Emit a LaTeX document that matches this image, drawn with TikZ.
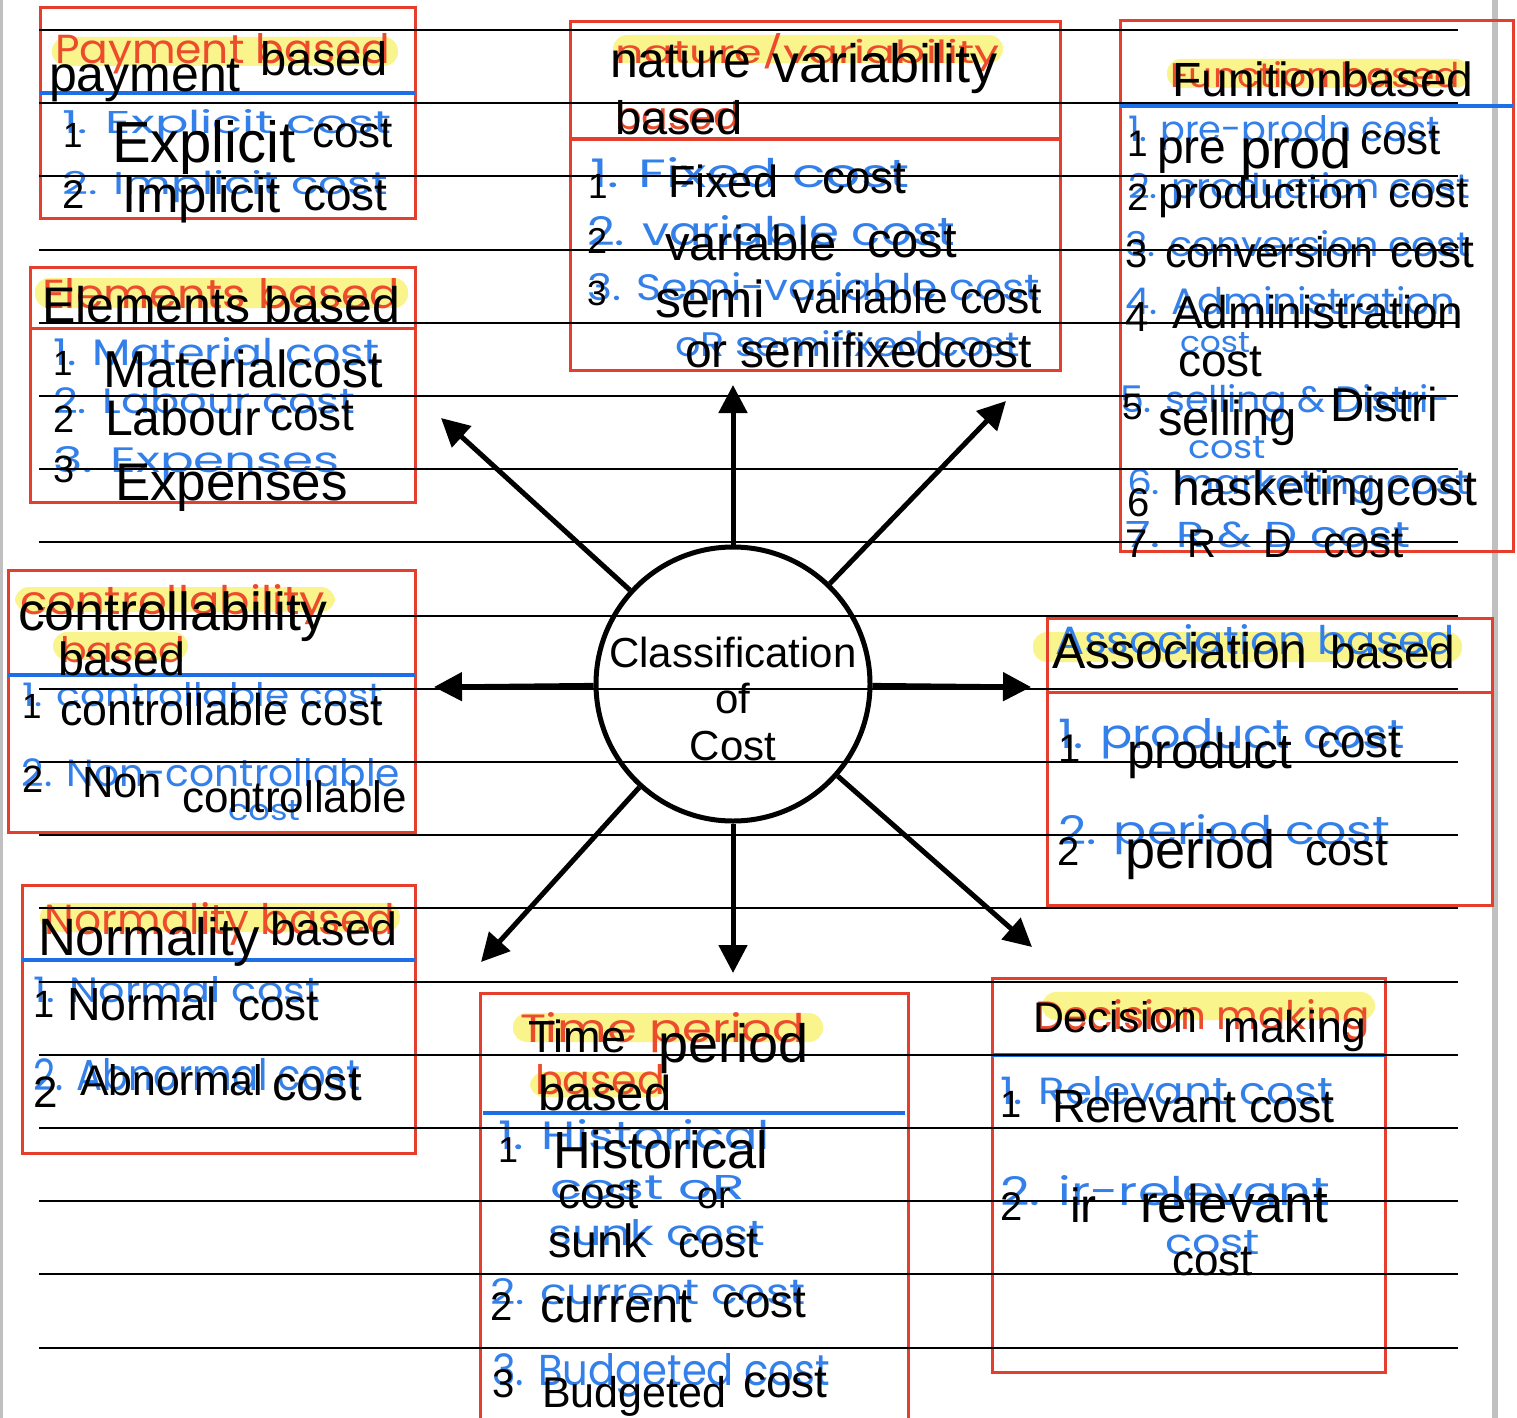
\documentclass[tikz,border=0pt]{standalone}
\usepackage{fontspec}
\usepackage{graphicx}
\setmainfont{Liberation Sans}
\newfontfamily\hwfont{Poppins}
\usetikzlibrary{arrows.meta}
\newcommand{\fsz}[1]{\fontsize{#1}{#1}\selectfont}
\newcommand{\hwtext}[3]{\resizebox{#1pt}{#2pt}{#3}}
\definecolor{boxred}{RGB}{229,62,44}
\definecolor{hwred}{RGB}{236,76,44}
\definecolor{hwblue}{RGB}{52,128,234}
\definecolor{ulblue}{RGB}{30,110,232}
\definecolor{hlyellow}{RGB}{250,244,140}
\definecolor{edgegray}{RGB}{192,192,192}
\tikzset{
  tx/.style={anchor=base west, inner sep=0pt, outer sep=0pt, text=black},
  hwr/.style={anchor=base west, inner sep=0pt, outer sep=0pt, text=hwred, font=\hwfont\fsz{34}},
  hwb/.style={anchor=base west, inner sep=0pt, outer sep=0pt, text=hwblue, font=\hwfont\fsz{34}},
  hl/.style={fill=hlyellow, rounded corners=14pt},
  redbox/.style={draw=boxred, line width=3pt},
  bluline/.style={draw=ulblue, line width=4pt},
  rule/.style={draw=black, line width=2pt},
  arr/.style={draw=black, line width=5pt, -{Triangle[length=28pt,width=28pt]}},
}
\begin{document}
\begin{tikzpicture}[x=1pt,y=-1pt]
\useasboundingbox (0,0) rectangle (1517,1418);
\fill[white] (0,0) rectangle (1517,1418);
% page edges
\fill[edgegray] (0,0) rectangle (3,1418);
\fill[edgegray] (1492,0) rectangle (1498,1418);
% highlights
\fill[hl] (52,37) rectangle (398,66);
\fill[hl] (613,35) rectangle (1003,63);
\fill[hl] (1167,59) rectangle (1470,88);
\fill[hl] (35,278) rectangle (408,308);
\fill[hl] (15,587) rectangle (335,612);
\fill[hl] (53,632) rectangle (188,660);
\fill[hl] (1033,632) rectangle (1462,662);
\fill[hl] (40,903) rectangle (400,932);
\fill[hl] (513,1013) rectangle (823,1042);
\fill[hl] (530,1072) rectangle (667,1097);
\fill[hl] (1042,992) rectangle (1375,1020);
% handwritten notes
\node[hwr] (h1a) at (55,64) {\hwtext{335}{30}{Payment based}};
\node[hwb] (h1b) at (62,134) {\hwtext{330}{24}{1. Explicit cost}};
\node[hwb] (h1c) at (62,194) {\hwtext{326}{24}{2. Implicit cost}};
\node[hwr] (h2a) at (615,64) {\hwtext{385}{30}{nature/variability}};
\node[hwr] (h2b) at (615,130) {\hwtext{125}{28}{based}};
\node[hwb] (h2c) at (590,187) {\hwtext{320}{30}{1. Fixed cost}};
\node[hwb] (h2d) at (587,245) {\hwtext{368}{30}{2. variable cost}};
\node[hwb] (h2e) at (587,300) {\hwtext{453}{28}{3. Semi-variable cost}};
\node[hwb] (h2f) at (675,356) {\hwtext{345}{26}{oR semifixed cost}};
\node[hwr] (h3a) at (1170,88) {\hwtext{290}{26}{Function based}};
\node[hwb] (h3b) at (1128,142) {\hwtext{312}{26}{1. pre-prodn cost}};
\node[hwb] (h3c) at (1128,198) {\hwtext{342}{26}{2. production cost}};
\node[hwb] (h3d) at (1125,256) {\hwtext{345}{26}{3. conversion cost}};
\node[hwb] (h3e) at (1125,314) {\hwtext{330}{28}{4. Administration}};
\node[hwb] (h3f) at (1180,352) {\hwtext{70}{20}{cost}};
\node[hwb] (h3g) at (1120,412) {\hwtext{330}{28}{5. selling \& Distri-}};
\node[hwb] (h3h) at (1188,458) {\hwtext{78}{22}{cost}};
\node[hwb] (h3i) at (1127,494) {\hwtext{343}{26}{6. marketing cost}};
\node[hwb] (h3j) at (1125,547) {\hwtext{285}{26}{7. R \& D cost}};
\node[hwr] (h4a) at (42,308) {\hwtext{358}{30}{Elements based}};
\node[hwb] (h4b) at (53,365) {\hwtext{327}{28}{1. Material cost}};
\node[hwb] (h4c) at (53,413) {\hwtext{302}{26}{2. Labour cost}};
\node[hwb] (h4d) at (53,472) {\hwtext{287}{26}{3. Expenses}};
\node[hwr] (h5a) at (20,614) {\hwtext{305}{30}{controllability}};
\node[hwr] (h5b) at (60,662) {\hwtext{125}{26}{based}};
\node[hwb] (h5c) at (22,706) {\hwtext{361}{24}{1. controllable cost}};
\node[hwb] (h5d) at (22,786) {\hwtext{378}{28}{2. Non-controllable}};
\node[hwb] (h5e) at (228,820) {\hwtext{72}{20}{cost}};
\node[hwb] (h6a) at (1055,654) {\hwtext{400}{30}{Association based}};
\node[hwb] (h6b) at (1058,748) {\hwtext{347}{30}{1. product cost}};
\node[hwb] (h6c) at (1058,844) {\hwtext{332}{30}{2. period cost}};
\node[hwr] (h7a) at (45,934) {\hwtext{350}{32}{Normality based}};
\node[hwb] (h7b) at (33,1002) {\hwtext{287}{26}{1. Normal cost}};
\node[hwb] (h7c) at (33,1090) {\hwtext{327}{32}{2. Abnormal cost}};
\node[hwr] (h8a) at (520,1042) {\hwtext{285}{30}{Time period}};
\node[hwr] (h8b) at (535,1094) {\hwtext{130}{30}{based}};
\node[hwb] (h8c) at (498,1149) {\hwtext{272}{30}{1. Historical}};
\node[hwb] (h8d) at (550,1199) {\hwtext{195}{24}{cost oR}};
\node[hwb] (h8e) at (548,1245) {\hwtext{217}{26}{sunk cost}};
\node[hwb] (h8f) at (490,1304) {\hwtext{315}{26}{2. current cost}};
\node[hwb] (h8g) at (492,1385) {\hwtext{338}{32}{3. Budgeted cost}};
\node[hwr] (h9a) at (1035,1029) {\hwtext{335}{30}{Decision making}};
\node[hwb] (h9b) at (1000,1104) {\hwtext{333}{28}{1. Relevant cost}};
\node[hwb] (h9c) at (1000,1205) {\hwtext{330}{30}{2. ir-relevant}};
\node[hwb] (h9d) at (1165,1254) {\hwtext{95}{24}{cost}};
% red boxes
\draw[redbox] (40,8) rectangle (415,218);
\draw[redbox] (570,22) rectangle (1060,370);
\draw[redbox] (570,139) -- (1060,139);
\draw[redbox] (1120,21) rectangle (1513,551);
\draw[redbox] (30,267) rectangle (415,502);
\draw[redbox] (30,328) -- (415,328);
\draw[redbox] (8,570) rectangle (415,832);
\draw[redbox] (1047,618) rectangle (1492,905);
\draw[redbox] (1047,692) -- (1492,692);
\draw[redbox] (22,885) rectangle (415,1153);
\draw[redbox] (480,1430) -- (480,993) -- (908,993) -- (908,1430);
\draw[redbox] (992,978) rectangle (1385,1372);
% blue underlines
\draw[bluline] (40,93) -- (415,93);
\draw[bluline] (1120,106) -- (1513,106);
\draw[bluline] (8,675) -- (415,675);
\draw[bluline] (22,960) -- (415,960);
\draw[bluline] (483,1113) -- (905,1113);
\draw[bluline] (992,1055) -- (1385,1055);
% ruled lines
\foreach \k in {0,...,18} {
  \draw[rule] (39,{30+73.2*\k}) -- (1458,{30+73.2*\k});
}
% centre circle and arrows
\node[circle, draw=black, line width=5pt, minimum size=274pt, inner sep=0pt] (c) at (733,684) {};
\node[anchor=base, inner sep=0pt, font=\fsz{42}] (ct1) at (733,667) {Classification};
\node[anchor=base, inner sep=0pt, font=\fsz{42}] (ct2) at (733,713) {of};
\node[anchor=base, inner sep=0pt, font=\fsz{42}] (ct3) at (733,760) {Cost};
\coordinate (tU) at (733,385);
\coordinate (tD) at (733,973);
\coordinate (tL) at (434,687);
\coordinate (tR) at (1031,687);
\coordinate (tUL) at (441,418);
\coordinate (tUR) at (1006,401);
\coordinate (tDL) at (481,962);
\coordinate (tDR) at (1032,947);
\draw[arr] (c) -- (tU);
\draw[arr] (c) -- (tD);
\draw[arr] (c) -- (tL);
\draw[arr] (c) -- (tR);
\draw[arr] (c) -- (tUL);
\draw[arr] (c) -- (tUR);
\draw[arr] (c) -- (tDL);
\draw[arr] (c) -- (tDR);
% typed text: box 1
\node[tx] (a1) at (49,92) {\fsz{50}payment};
\node[tx] (a2) at (260,76) {\fsz{47}based};
\node[tx] (a3) at (63,147) {\fsz{35}1};
\node[tx] (a4) at (112,162) {\fsz{58}Explicit};
\node[tx] (a5) at (312,147) {\fsz{44}cost};
\node[tx] (a6) at (62,208) {\fsz{40}2};
\node[tx] (a7) at (122,212) {\fsz{51}Implicit};
\node[tx] (a8) at (303,210) {\fsz{46}cost};
% box 2
\node[tx] (b1) at (610,78) {\fsz{50}nature};
\node[tx] (b2) at (772,83) {\fsz{54}variability};
\node[tx] (b3) at (615,135) {\fsz{47}based};
\node[tx] (b4) at (588,198) {\fsz{35}1};
\node[tx] (b5) at (668,197) {\fsz{45}Fixed};
\node[tx] (b6) at (822,193) {\fsz{46}cost};
\node[tx] (b7) at (587,253) {\fsz{36}2};
\node[tx] (b8) at (665,260) {\fsz{49}variable};
\node[tx] (b9) at (867,257) {\fsz{49}cost};
\node[tx] (b10) at (587,305) {\fsz{35}3};
\node[tx] (b11) at (655,317) {\fsz{52}semi};
\node[tx] (b12) at (792,313) {\fsz{44.5}variable cost};
\node[tx] (b13) at (685,367) {\fsz{48}or semifixedcost};
% box 3
\node[tx] (d1) at (1172,97) {\fsz{48}Funitionbased};
\node[tx] (d2) at (1127,156) {\fsz{37}1};
\node[tx] (d3) at (1157,163) {\fsz{48}pre};
\node[tx] (d4) at (1240,168) {\fsz{56}prod};
\node[tx] (d5) at (1360,154) {\fsz{44}cost};
\node[tx] (d6) at (1127,210) {\fsz{38}2};
\node[tx] (d7) at (1158,208) {\fsz{45}production};
\node[tx] (d8) at (1388,207) {\fsz{44}cost};
\node[tx] (d9) at (1125,267) {\fsz{40}3};
\node[tx] (d10) at (1165,267) {\fsz{43}conversion};
\node[tx] (d11) at (1390,267) {\fsz{46}cost};
\node[tx] (d12) at (1125,331) {\fsz{42}4};
\node[tx] (d13) at (1172,328) {\fsz{46}Administration};
\node[tx] (d14) at (1178,376) {\fsz{46}cost};
\node[tx] (d15) at (1122,419) {\fsz{37}5};
\node[tx] (d16) at (1158,435) {\fsz{49}selling};
\node[tx] (d17) at (1330,421) {\fsz{47.5}Distri};
\node[tx] (d18) at (1127,516) {\fsz{40}6};
\node[tx] (d19) at (1172,505) {\fsz{50}hasketingcost};
\node[tx] (d20) at (1125,557) {\fsz{40}7};
\node[tx] (d21) at (1187,557) {\fsz{40}R};
\node[tx] (d22) at (1263,557) {\fsz{40}D};
\node[tx] (d23) at (1323,557) {\fsz{44}cost};
% box 4
\node[tx] (e1) at (42,322) {\fsz{50}Elements based};
\node[tx] (e2) at (53,375) {\fsz{35}1};
\node[tx] (e3) at (103,387) {\fsz{52}Materialcost};
\node[tx] (e4) at (53,432) {\fsz{38}2};
\node[tx] (e5) at (105,435) {\fsz{50}Labour};
\node[tx] (e6) at (270,430) {\fsz{46}cost};
\node[tx] (e7) at (53,482) {\fsz{38}3};
\node[tx] (e8) at (115,500) {\fsz{53}Expenses};
% box 5
\node[tx] (f1) at (18,630) {\fsz{53.6}controllability};
\node[tx] (f2) at (58,675) {\fsz{46.6}based};
\node[tx] (f3) at (22,718) {\fsz{35}1};
\node[tx] (f4) at (60,725) {\fsz{44.7}controllable cost};
\node[tx] (f5) at (23,792) {\fsz{38}2};
\node[tx] (f6) at (82,797) {\fsz{43.6}Non};
\node[tx] (f7) at (182,812) {\fsz{44}controllable};
% box 6
\node[tx] (g1) at (1052,668) {\fsz{50}Association};
\node[tx] (g2) at (1330,668) {\fsz{46}based};
\node[tx] (g3) at (1058,762) {\fsz{40}1};
\node[tx] (g4) at (1127,768) {\fsz{49.5}product};
\node[tx] (g5) at (1317,757) {\fsz{46}cost};
\node[tx] (g6) at (1057,865) {\fsz{40}2};
\node[tx] (g7) at (1125,868) {\fsz{54}period};
\node[tx] (g8) at (1305,865) {\fsz{45}cost};
% box 7
\node[tx] (k1) at (38,955) {\fsz{52.6}Normality};
\node[tx] (k2) at (270,945) {\fsz{46.6}based};
\node[tx] (k3) at (33,1017) {\fsz{38}1};
\node[tx] (k4) at (67,1020) {\fsz{46.5}Normal};
\node[tx] (k5) at (238,1020) {\fsz{44}cost};
\node[tx] (k6) at (33,1107) {\fsz{44}2};
\node[tx] (k7) at (80,1095) {\fsz{42.8}Abnormal};
\node[tx] (k8) at (272,1100) {\fsz{49}cost};
% box 8
\node[tx] (m1) at (528,1052) {\fsz{45}Time};
\node[tx] (m2) at (658,1062) {\fsz{54}period};
\node[tx] (m3) at (538,1110) {\fsz{49}based};
\node[tx] (m4) at (498,1162) {\fsz{36}1};
\node[tx] (m5) at (553,1168) {\fsz{52.3}Historical};
\node[tx] (m6) at (558,1208) {\fsz{44}cost};
\node[tx] (m7) at (697,1208) {\fsz{38}or};
\node[tx] (m8) at (548,1257) {\fsz{46.6}sunk};
\node[tx] (m9) at (678,1257) {\fsz{44}cost};
\node[tx] (m10) at (490,1320) {\fsz{40}2};
\node[tx] (m11) at (540,1322) {\fsz{49}current};
\node[tx] (m12) at (722,1317) {\fsz{46}cost};
\node[tx] (m13) at (492,1397) {\fsz{40}3};
\node[tx] (m14) at (542,1407) {\fsz{43}Budgeted};
\node[tx] (m15) at (743,1397) {\fsz{46}cost};
% box 9
\node[tx] (n1) at (1033,1032) {\fsz{42.8}Decision};
\node[tx] (n2) at (1223,1042) {\fsz{44.6}making};
\node[tx] (n3) at (1000,1117) {\fsz{38}1};
\node[tx] (n4) at (1052,1122) {\fsz{46.7}Relevant cost};
\node[tx] (n5) at (1000,1220) {\fsz{40}2};
\node[tx] (n6) at (1070,1222) {\fsz{48}ir};
\node[tx] (n7) at (1140,1222) {\fsz{53}relevant};
\node[tx] (n8) at (1172,1275) {\fsz{44}cost};
\end{tikzpicture}
\end{document}
